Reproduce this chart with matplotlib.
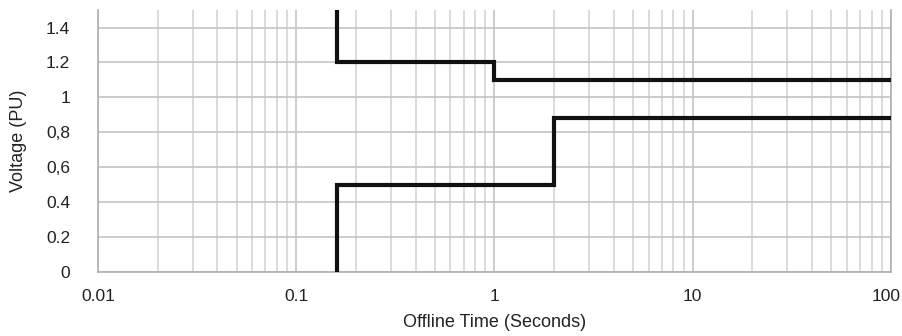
import matplotlib
matplotlib.use("Agg")
import matplotlib.pyplot as plt
import matplotlib.transforms as mtransforms
import numpy as np

plt.rcParams['font.family'] = ['Liberation Sans', 'DejaVu Sans']

# upper (over-voltage) boundary
upper_t = [0.16, 0.16, 1, 1, 100]
upper_v = [1.5, 1.2, 1.2, 1.1, 1.1]
# lower (under-voltage) boundary
lower_t = [0.16, 0.16, 2, 2, 100]
lower_v = [0, 0.5, 0.5, 0.88, 0.88]

yticks = [0, 0.2, 0.4, 0.6, 0.8, 1, 1.2, 1.4]
ylabels = ["0", "0.2", "0.4", "0,6", "0,8", "1", "1.2", "1.4"]
xticks = [0.01, 0.1, 1, 10, 100]
xlabels = ["0.01", "0.1", "1", "10", "100"]

fig = plt.figure(figsize=(9.03, 3.36), dpi=100)
ax = fig.add_axes([0.1085, 0.19, 0.878, 0.78])

ax.plot(upper_t, upper_v, color='#111111', lw=3, solid_joinstyle='miter', zorder=3)
ax.plot(lower_t, lower_v, color='#111111', lw=3, solid_joinstyle='miter', zorder=3)

ax.set_xscale('log')
ax.set_xlim(0.01, 100)
ax.set_ylim(0, 1.5)
ax.set_xticks(xticks)
ax.set_xticklabels(xlabels)
ax.set_yticks(yticks)
ax.set_yticklabels(ylabels)
ax.tick_params(axis='x', length=0, labelsize=12.5, colors='#222222', pad=12)
ax.tick_params(axis='y', length=0, labelsize=12.5, colors='#222222', pad=20)

# nudge the "100" label so it stays inside the figure
last = ax.get_xticklabels()[-1]
last.set_transform(last.get_transform() +
                   mtransforms.ScaledTranslation(-5 / 100, 0, fig.dpi_scale_trans))

ax.grid(True, which='major', axis='both', color='#c4c4c4', lw=1.2)
ax.grid(True, which='minor', axis='x', color='#d4d4d4', lw=1.2)
ax.tick_params(which='minor', length=0)

ax.spines['top'].set_visible(False)
for s in ['left', 'bottom', 'right']:
    ax.spines[s].set_color('#b0b0b0')
    ax.spines[s].set_linewidth(1.2)

ax.set_ylabel('Voltage (PU)', fontsize=13, color='#222222', labelpad=14)
ax.set_xlabel('Offline Time (Seconds)', fontsize=13, color='#222222', labelpad=7)

fig.savefig('out.png', dpi=100, facecolor='white')
